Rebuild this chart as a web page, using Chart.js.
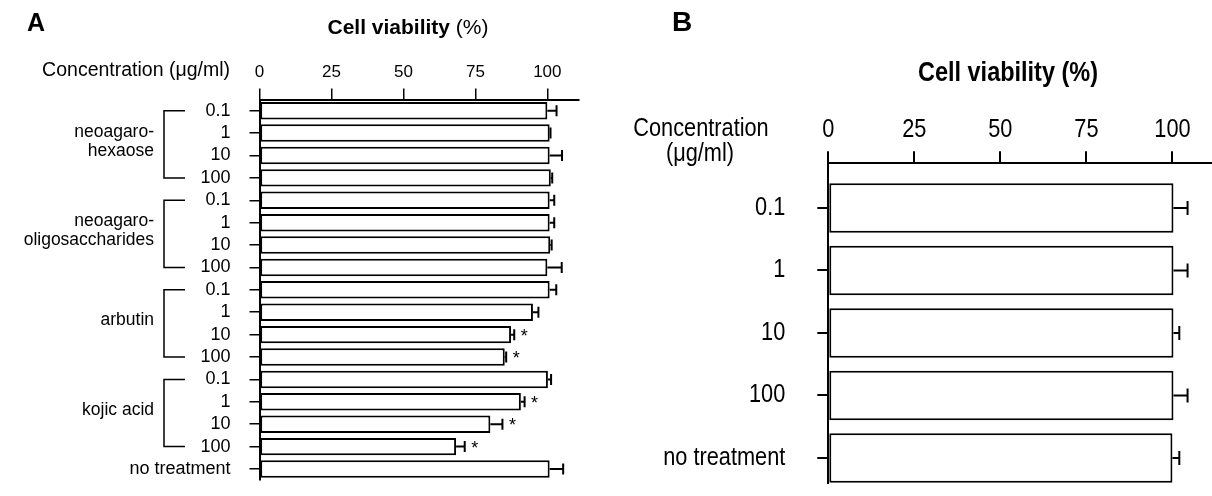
<!DOCTYPE html>
<html>
<head>
<meta charset="utf-8">
<script src="https://cdn.jsdelivr.net/npm/chart.js@4.4.1/dist/chart.umd.min.js"></script>
<style>
  html, body { margin: 0; padding: 0; background: #fff; overflow: hidden; }
  #chartA { position: absolute; left: 0; top: 0; }
  #chartB { position: absolute; left: 600px; top: 0; }
</style>
</head>
<body>
<canvas id="chartA" width="600" height="510"></canvas>
<canvas id="chartB" width="612" height="496"></canvas>
<script>
// panel A data
const rowLabelsA = ["0.1", "1", "10", "100", "0.1", "1", "10", "100", "0.1", "1", "10", "100", "0.1", "1", "10", "100", "no treatment"];
const viabilityA = [100, 100.8, 100.8, 101.2, 100.8, 100.8, 101, 100, 100.8, 95, 87.4, 85.2, 100.2, 90.8, 80.2, 68.3, 100.8];
const errorA = [3.2, 0.3, 4.3, 0.5, 1.6, 1.6, 0.5, 5, 2.3, 1.9, 1.1, 0.5, 1.1, 1.3, 4.2, 3, 4.7];
const signifA = ["", "", "", "", "", "", "", "", "", "", "*", "*", "", "*", "*", "*", ""];
const groupNamesA = [["neoagaro-", "hexaose"], ["neoagaro-", "oligosaccharides"], ["arbutin"], ["kojic acid"]];
const groupSizeA = 4;

// panel B data
const rowLabelsB = ["0.1", "1", "10", "100", "no treatment"];
const viabilityB = [100.3, 100.3, 100.3, 100.3, 100];
const errorB = [4.1, 4.1, 1.7, 4.1, 2];

const xTicks = [0, 25, 50, 75, 100];

const FONT_A = "'Liberation Sans', Arial, sans-serif";
const NARROW = 0.87; // panel B uses a condensed face, squeeze Liberation Sans

// draws text squeezed horizontally
function narrowText(ctx, text, x, y, align, font) {
  ctx.save();
  ctx.font = font;
  ctx.textAlign = align;
  ctx.textBaseline = "middle";
  ctx.translate(x, y);
  ctx.scale(NARROW, 1);
  ctx.fillText(text, 0, 0);
  ctx.restore();
}

// error bars (right side only) + significance marks
const errorBarPlugin = {
  id: "errorBars",
  afterDatasetsDraw(chart, args, opts) {
    const ctx = chart.ctx;
    const xScale = chart.scales.x;
    const bars = chart.getDatasetMeta(0).data;
    ctx.save();
    ctx.strokeStyle = "#000";
    ctx.fillStyle = "#000";
    ctx.lineWidth = opts.lineWidth;
    bars.forEach((bar, i) => {
      const xEnd = xScale.getPixelForValue(opts.values[i] + opts.errors[i]);
      ctx.beginPath();
      ctx.moveTo(bar.x, bar.y);
      ctx.lineTo(xEnd, bar.y);
      ctx.moveTo(xEnd, bar.y - opts.cap);
      ctx.lineTo(xEnd, bar.y + opts.cap);
      ctx.stroke();
      if (opts.marks && opts.marks[i]) {
        ctx.font = opts.markFont;
        ctx.textAlign = "center";
        ctx.textBaseline = "middle";
        ctx.fillText(opts.marks[i], xEnd + 10, bar.y + 2);
      }
    });
    ctx.restore();
  }
};

// panel A: letter, titles, brackets and group names
const panelAPlugin = {
  id: "panelA",
  afterDraw(chart) {
    const ctx = chart.ctx;
    const yScale = chart.scales.y;
    ctx.save();
    ctx.fillStyle = "#000";
    ctx.strokeStyle = "#000";
    ctx.textBaseline = "middle";

    ctx.font = "bold 25px " + FONT_A;
    ctx.textAlign = "center";
    ctx.fillText("A", 36, 24);

    // axis title, bold part + normal part
    ctx.font = "bold 21px " + FONT_A;
    const t1 = "Cell viability ";
    const w1 = ctx.measureText(t1).width;
    ctx.font = "21px " + FONT_A;
    const t2 = "(%)";
    const w2 = ctx.measureText(t2).width;
    let x0 = 408 - (w1 + w2) / 2;
    ctx.textAlign = "left";
    ctx.font = "bold 21px " + FONT_A;
    ctx.fillText(t1, x0, 28);
    ctx.font = "21px " + FONT_A;
    ctx.fillText(t2, x0 + w1, 28);

    ctx.textAlign = "right";
    ctx.font = "19.5px " + FONT_A;
    ctx.fillText("Concentration (\u03bcg/ml)", 230, 71);

    // brackets
    ctx.lineWidth = 1.5;
    groupNamesA.forEach((lines, g) => {
      const yTop = yScale.getPixelForValue(g * groupSizeA);
      const yBot = yScale.getPixelForValue(g * groupSizeA + groupSizeA - 1);
      ctx.beginPath();
      ctx.moveTo(185, yTop);
      ctx.lineTo(164, yTop);
      ctx.lineTo(164, yBot);
      ctx.lineTo(185, yBot);
      ctx.stroke();

      const mid = (yTop + yBot) / 2 - 3;
      const lh = 19;
      ctx.font = "17.5px " + FONT_A;
      ctx.textAlign = "right";
      lines.forEach((s, k) => {
        ctx.fillText(s, 154, mid + (k - (lines.length - 1) / 2) * lh);
      });
    });
    ctx.restore();
  }
};

// panel B: letter, titles and condensed tick labels
const panelBPlugin = {
  id: "panelB",
  afterDraw(chart) {
    const ctx = chart.ctx;
    const xScale = chart.scales.x;
    const yScale = chart.scales.y;
    ctx.save();
    ctx.fillStyle = "#000";
    ctx.textBaseline = "middle";
    ctx.textAlign = "center";
    ctx.font = "bold 28px " + FONT_A;
    ctx.fillText("B", 82, 23);
    narrowText(ctx, "Cell viability (%)", 408, 74, "center", "bold 27px " + FONT_A);
    narrowText(ctx, "Concentration", 101, 129, "center", "25px " + FONT_A);
    narrowText(ctx, "(\u03bcg/ml)", 100, 154, "center", "25px " + FONT_A);

    xTicks.forEach((v) => {
      narrowText(ctx, String(v), xScale.getPixelForValue(v), 130, "center", "25px " + FONT_A);
    });
    rowLabelsB.forEach((s, i) => {
      narrowText(ctx, s, yScale.right - 43, yScale.getPixelForValue(i), "right", "25px " + FONT_A);
    });
    ctx.restore();
  }
};

new Chart("chartA", {
  type: "bar",
  data: {
    labels: rowLabelsA,
    datasets: [{
      data: viabilityA,
      backgroundColor: "#fff",
      borderColor: "#000",
      borderWidth: 2,
      borderSkipped: false,
      barPercentage: 0.78,
      categoryPercentage: 1,
    }],
  },
  options: {
    indexAxis: "y",
    responsive: false,
    animation: false,
    layout: { padding: { left: 0, right: 21, top: 0, bottom: 10 } },
    plugins: {
      legend: { display: false },
      tooltip: { enabled: false },
      errorBars: { values: viabilityA, errors: errorA, marks: signifA, cap: 5.5, lineWidth: 2, markFont: "18px " + FONT_A },
    },
    scales: {
      x: {
        type: "linear",
        position: "top",
        min: 0,
        max: 111,
        afterBuildTicks: (s) => { s.ticks = xTicks.map((v) => ({ value: v })); },
        afterFit: (s) => { s.height = 99.5; },
        ticks: { color: "#000", font: { family: FONT_A, size: 17 }, padding: 6, maxRotation: 0 },
        grid: { drawOnChartArea: false, drawTicks: true, tickLength: 11, color: "#000", lineWidth: 1.5 },
        border: { color: "#000", width: 2 },
      },
      y: {
        type: "category",
        position: "left",
        offset: true,
        afterFit: (s) => { s.width = 259.5; },
        ticks: { color: "#000", font: { family: FONT_A, size: 18 }, padding: 19, autoSkip: false },
        grid: { offset: false, drawOnChartArea: false, drawTicks: true, tickLength: 10, color: "#000", lineWidth: 1.5 },
        border: { color: "#000", width: 2 },
      },
    },
  },
  plugins: [errorBarPlugin, panelAPlugin],
});

new Chart("chartB", {
  type: "bar",
  data: {
    datasets: [{
      data: viabilityB.map((v, i) => ({ x: v, y: i })),
      backgroundColor: "#fff",
      borderColor: "#000",
      borderWidth: 2,
      borderSkipped: false,
      barPercentage: 0.79,
      categoryPercentage: 1,
    }],
  },
  options: {
    indexAxis: "y",
    responsive: false,
    animation: false,
    layout: { padding: { left: 0, right: 0, top: 0, bottom: 13 } },
    plugins: {
      legend: { display: false },
      tooltip: { enabled: false },
      errorBars: { values: viabilityB, errors: errorB, cap: 7, lineWidth: 2 },
    },
    scales: {
      x: {
        type: "linear",
        position: "top",
        min: 0,
        max: 111.5,
        afterBuildTicks: (s) => { s.ticks = xTicks.map((v) => ({ value: v })); },
        afterFit: (s) => { s.height = 163.3; },
        ticks: { display: false },
        grid: { drawOnChartArea: false, drawTicks: true, tickLength: 12, color: "#000", lineWidth: 2 },
        border: { color: "#000", width: 2 },
      },
      y: {
        type: "linear",
        position: "left",
        reverse: true,
        offset: false,
        min: -0.715,
        max: 4.4,
        afterBuildTicks: (s) => { s.ticks = rowLabelsB.map((_, i) => ({ value: i })); },
        afterFit: (s) => { s.width = 228.3; },
        ticks: { display: false },
        grid: { offset: false, drawOnChartArea: false, drawTicks: true, tickLength: 11, color: "#000", lineWidth: 2 },
        border: { color: "#000", width: 2 },
      },
    },
  },
  plugins: [errorBarPlugin, panelBPlugin],
});
</script>
</body>
</html>
